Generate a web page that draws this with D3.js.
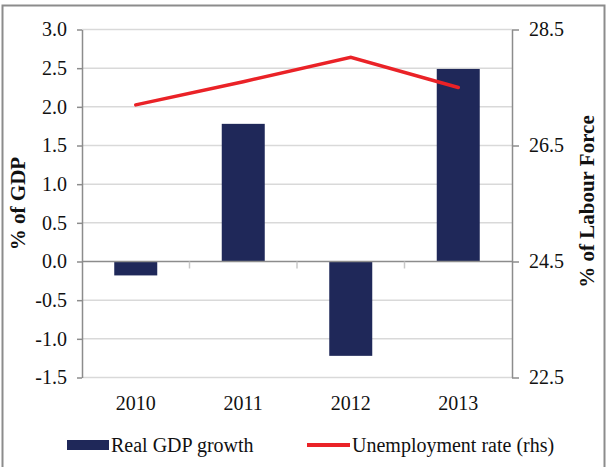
<!DOCTYPE html>
<html lang="en">
<head>
    <meta charset="UTF-8">
    <title>Real GDP growth and unemployment</title>
    <script src="https://d3js.org/d3.v7.min.js"></script>
    <style>
        body { margin: 0; background: #fff; }
        svg text { font-family: "Liberation Serif", "Times New Roman", "DejaVu Serif", serif !important; fill: #111; }
    </style>
</head>
<body>
    <script>
        // chart data
        var years = ['2010', '2011', '2012', '2013'];
        var gdpGrowth = [-0.18, 1.78, -1.22, 2.49];      // % of GDP, bars
        var unemployment = [27.2, 27.6, 28.02, 27.5];   // % of labour force, rhs line
        var leftTicks = [-1.5, -1.0, -0.5, 0.0, 0.5, 1.0, 1.5, 2.0, 2.5, 3.0];
        var rightTicks = [22.5, 24.5, 26.5, 28.5];

        var width = 607;
        var height = 467;
        var plot = { left: 82, right: 512, top: 29.5, bottom: 377.5 };
        var serif = '"Liberation Serif", "Times New Roman", serif';

        var svg = d3.select('body').append('svg')
            .attr('width', width)
            .attr('height', height)
            .attr('font-family', serif);

        // outer frame
        svg.append('rect')
            .attr('x', 2.5).attr('y', 5.5)
            .attr('width', 602).attr('height', 470)
            .attr('fill', 'none')
            .attr('stroke', '#8c8c8c')
            .attr('stroke-width', 2);

        var x = d3.scaleBand()
            .domain(years)
            .range([plot.left, plot.right])
            .paddingInner(0.6)
            .paddingOuter(0.3);

        var yL = d3.scaleLinear().domain([-1.5, 3.0]).range([plot.bottom, plot.top]);
        var yR = d3.scaleLinear().domain([22.5, 28.5]).range([plot.bottom, plot.top]);

        // gridlines
        svg.append('g').selectAll('line')
            .data(leftTicks.filter(function (d) { return d !== 0; }))
            .enter().append('line')
            .attr('x1', plot.left).attr('x2', plot.right)
            .attr('y1', function (d) { return yL(d); })
            .attr('y2', function (d) { return yL(d); })
            .attr('stroke', '#d9d9d9')
            .attr('stroke-width', 1.5);

        // bars
        svg.append('g').selectAll('rect')
            .data(gdpGrowth)
            .enter().append('rect')
            .attr('x', function (d, i) { return x(years[i]); })
            .attr('width', x.bandwidth())
            .attr('y', function (d) { return yL(Math.max(0, d)); })
            .attr('height', function (d) { return Math.abs(yL(d) - yL(0)); })
            .attr('fill', '#1f2859');

        // left axis
        var leftAxis = svg.append('g')
            .attr('transform', 'translate(' + plot.left + ',0)')
            .call(d3.axisLeft(yL).tickValues(leftTicks)
                .tickFormat(function (d) { return d.toFixed(1); })
                .tickSize(5).tickPadding(10).tickSizeOuter(0));

        // right axis
        var rightAxis = svg.append('g')
            .attr('transform', 'translate(' + plot.right + ',0)')
            .call(d3.axisRight(yR).tickValues(rightTicks)
                .tickFormat(function (d) { return d.toFixed(1); })
                .tickSize(7).tickPadding(10).tickSizeOuter(0));

        // category axis at zero, ticks between bands
        var zeroY = yL(0);
        svg.append('line')
            .attr('x1', plot.left).attr('x2', plot.right)
            .attr('y1', zeroY).attr('y2', zeroY)
            .attr('stroke', '#8c8c8c').attr('stroke-width', 1.5);
        svg.append('g').selectAll('line')
            .data(years.slice(1))
            .enter().append('line')
            .attr('x1', function (d) { return x(d) - x.step() * x.paddingInner() / 2; })
            .attr('x2', function (d) { return x(d) - x.step() * x.paddingInner() / 2; })
            .attr('y1', zeroY).attr('y2', zeroY + 7)
            .attr('stroke', '#c8c8c8').attr('stroke-width', 1.5);

        svg.append('g').selectAll('text')
            .data(years)
            .enter().append('text')
            .attr('x', function (d) { return x(d) + x.bandwidth() / 2; })
            .attr('y', 410)
            .attr('text-anchor', 'middle')
            .attr('font-family', serif)
            .style('font-size', '20px')
            .text(function (d) { return d; });

        [leftAxis, rightAxis].forEach(function (a) {
            a.attr('font-family', serif);
            a.select('.domain').attr('stroke', '#8c8c8c').attr('stroke-width', 1.5);
            a.selectAll('.tick line').attr('stroke', '#8c8c8c').attr('stroke-width', 1.5);
            a.selectAll('.tick text')
                .style('font-size', '20px')
                .attr('font-family', serif)
                .attr('fill', '#111');
        });

        // unemployment line
        var line = d3.line()
            .x(function (d, i) { return x(years[i]) + x.bandwidth() / 2; })
            .y(function (d) { return yR(d); });
        svg.append('path')
            .datum(unemployment)
            .attr('d', line)
            .attr('fill', 'none')
            .attr('stroke', '#ea2227')
            .attr('stroke-width', 3.5)
            .attr('stroke-linecap', 'round');

        // axis titles
        svg.append('text')
            .attr('transform', 'translate(25,' + ((plot.top + plot.bottom) / 2) + ') rotate(-90)')
            .attr('text-anchor', 'middle')
            .attr('font-family', serif)
            .style('font-size', '21px')
            .style('font-weight', 'bold')
            .text('% of GDP');
        svg.append('text')
            .attr('transform', 'translate(594,' + ((plot.top + plot.bottom) / 2 - 2) + ') rotate(-90)')
            .attr('text-anchor', 'middle')
            .attr('font-family', serif)
            .style('font-size', '21px')
            .style('font-weight', 'bold')
            .text('% of Labour Force');

        // legend
        svg.append('rect')
            .attr('x', 67).attr('y', 440)
            .attr('width', 42).attr('height', 10)
            .attr('fill', '#1f2859');
        svg.append('text')
            .attr('x', 111).attr('y', 452)
            .attr('font-family', serif)
            .style('font-size', '20px')
            .text('Real GDP growth');
        svg.append('line')
            .attr('x1', 307).attr('x2', 350)
            .attr('y1', 445).attr('y2', 445)
            .attr('stroke', '#ea2227')
            .attr('stroke-width', 4);
        svg.append('text')
            .attr('x', 352).attr('y', 452)
            .attr('font-family', serif)
            .style('font-size', '20px')
            .text('Unemployment rate (rhs)');
    </script>
</body>
</html>
